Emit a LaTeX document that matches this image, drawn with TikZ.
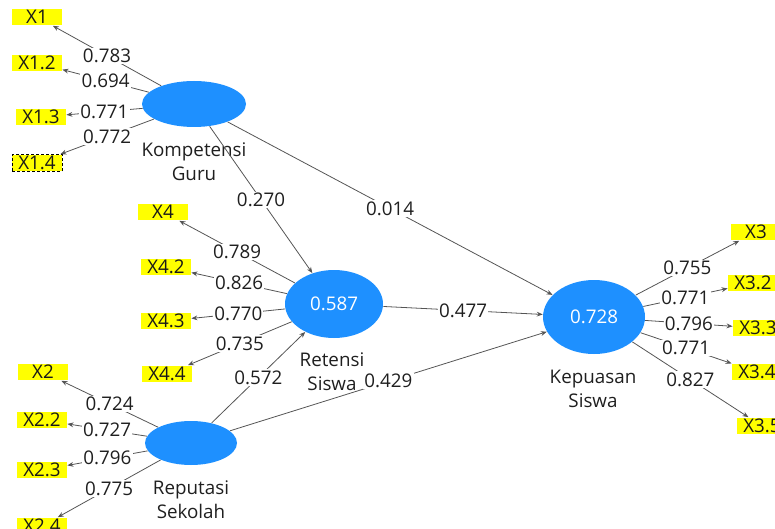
\documentclass[tikz,border=0pt]{standalone}
\usepackage{fontspec}
\setmainfont{Open Sans}
\usetikzlibrary{shapes.geometric,arrows.meta}
\definecolor{lvblue}{RGB}{30,144,255}
\definecolor{mvyellow}{RGB}{255,255,0}
\definecolor{linkgray}{RGB}{85,85,85}

\begin{document}
\begin{tikzpicture}[x=0.5pt,y=-0.5pt,
  every node/.style={font=\fontsize{9.4}{12}\selectfont},
  lv/.style={ellipse,fill=lvblue,text=white,inner sep=0pt},
  mv/.style={fill=mvyellow,minimum width=25pt,minimum height=8.4pt,inner sep=0pt,text=black!90},
  lvname/.style={align=center,text=black!88},
  coef/.style={fill=white,inner sep=0.6pt,text=black!88},
  link/.style={draw=linkgray,line width=0.4pt,-{Stealth[length=3pt,width=2.4pt]}}]

\useasboundingbox (0,0) rectangle (775,529);

% latent variables
\node[lv,minimum width=52pt,minimum height=23pt] (KG) at (194,104) {};
\node[lv,minimum width=49pt,minimum height=34pt] (RS) at (334,304) {0.587};
\node[lv,minimum width=46pt,minimum height=22pt] (RP) at (191,443) {};
\node[lv,minimum width=51pt,minimum height=37pt] (KS) at (594,317) {0.728};

\node[lvname] (KGname) at (194,162) {Kompetensi\\Guru};
\node[lvname] (RSname) at (332,372) {Retensi\\Siswa};
\node[lvname] (RPname) at (191,500) {Reputasi\\Sekolah};
\node[lvname] (KSname) at (593,389) {Kepuasan\\Siswa};

% indicators
\node[mv] (X1) at (37,17) {X1};
\node[mv] (X12) at (37,63) {X1.2};
\node[mv] (X13) at (41,117) {X1.3};
\node[mv,draw=black,dash pattern=on 1.5pt off 1pt,line width=0.4pt] (X14) at (37,163) {X1.4};

\node[mv] (X4) at (163,212) {X4};
\node[mv] (X42) at (166,267) {X4.2};
\node[mv] (X43) at (166,321) {X4.3};
\node[mv] (X44) at (167,374) {X4.4};

\node[mv] (X2) at (43,372) {X2};
\node[mv] (X22) at (42,420) {X2.2};
\node[mv] (X23) at (42,470) {X2.3};
\node[mv] (X24) at (42,526) {X2.4};

\node[mv] (X3) at (756,232) {X3};
\node[mv] (X32) at (753,283) {X3.2};
\node[mv] (X33) at (758,328) {X3.3};
\node[mv] (X34) at (757,372) {X3.4};
\node[mv] (X35) at (762,426) {X3.5};

% outer loadings
\draw[link] (KG) -- node[coef] {0.783} (X1);
\draw[link] (KG) -- node[coef] {0.694} (X12);
\draw[link] (KG) -- node[coef] {0.771} (X13);
\draw[link] (KG) -- node[coef] {0.772} (X14);

\draw[link] (RS) -- node[coef] {0.789} (X4);
\draw[link] (RS) -- node[coef] {0.826} (X42);
\draw[link] (RS) -- node[coef] {0.770} (X43);
\draw[link] (RS) -- node[coef] {0.735} (X44);

\draw[link] (RP) -- node[coef] {0.724} (X2);
\draw[link] (RP) -- node[coef] {0.727} (X22);
\draw[link] (RP) -- node[coef] {0.796} (X23);
\draw[link] (RP) -- node[coef] {0.775} (X24);

\draw[link] (KS) -- node[coef] {0.755} (X3);
\draw[link] (KS) -- node[coef] {0.771} (X32);
\draw[link] (KS) -- node[coef] {0.796} (X33);
\draw[link] (KS) -- node[coef] {0.771} (X34);
\draw[link] (KS) -- node[coef] {0.827} (X35);

% path coefficients
\draw[link] (KG) -- node[coef] {0.270} (RS);
\draw[link] (KG) -- node[coef] {0.014} (KS);
\draw[link] (RS) -- node[coef] {0.477} (KS);
\draw[link] (RP) -- node[coef] {0.572} (RS);
\draw[link] (RP) -- node[coef] {0.429} (KS);

\end{tikzpicture}
\end{document}
